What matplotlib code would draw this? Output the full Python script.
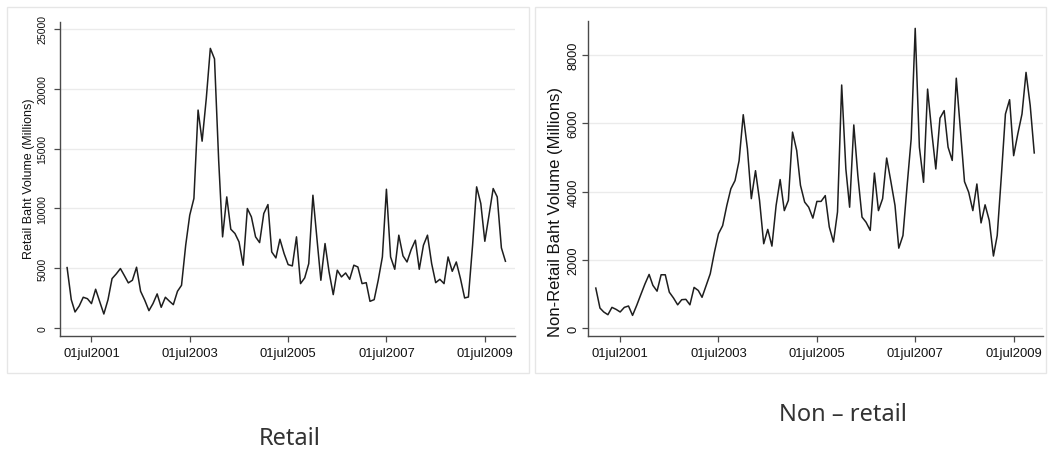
import matplotlib
matplotlib.use('Agg')
import matplotlib.pyplot as plt
from matplotlib.patches import Rectangle
import pandas as pd

## Data -- monthly baht volume, Jan 2001 .. Dec 2009 (millions)
months = pd.date_range('2001-01-01', periods=108, freq='MS')

retail = [
    5050, 2370, 1340, 1840, 2570, 2450, 2040, 3240, 2180, 1170, 2370, 4130,
    4520, 4970, 4410, 3770, 3990, 5080, 3070, 2320, 1450, 2040, 2850, 1730,
    2570, 2230, 1950, 3070, 3570, 6920, 9430, 10830, 18220, 15620, 19200, 23380,
    22500, 14000, 7620, 10960, 8260, 7900, 7200, 5250, 9990, 9290, 7620, 7140,
    9570, 10320, 6360, 5860, 7420, 6220, 5300, 5190, 7620, 3710, 4190, 5380,
    11100, 7340, 3990, 7060, 4690, 2790, 4830, 4270, 4600, 4070, 5250, 5100,
    3710, 3790, 2230, 2370, 3990, 5940, 11600, 5940, 4910, 7760, 6030, 5520,
    6560, 7340, 4910, 6920, 7760, 5380, 3790, 4070, 3710, 5940, 4740, 5520,
    4130, 2510, 2590, 6920, 11800, 10410, 7250, 9430, 11660, 10960, 6700, 5580,
]

non_retail = [
    1170, 585, 470, 390, 605, 546, 470, 605, 645, 370, 665, 975,
    1290, 1570, 1250, 1080, 1560, 1560, 1050, 880, 680, 830, 840, 680,
    1190, 1100, 900, 1250, 1590, 2220, 2760, 3000, 3590, 4080, 4320, 4900,
    6250, 5250, 3790, 4610, 3740, 2470, 2890, 2400, 3590, 4350, 3440, 3740,
    5740, 5200, 4180, 3690, 3540, 3220, 3710, 3710, 3880, 2960, 2520, 3400,
    7120, 4660, 3540, 5950, 4470, 3250, 3100, 2860, 4540, 3440, 3790, 4980,
    4300, 3590, 2340, 2710, 4130, 5540, 8780, 5300, 4270, 7000, 5740, 4660,
    6150, 6370, 5300, 4910, 7320, 5790, 4290, 3980, 3440, 4220, 3080, 3610,
    3150, 2110, 2710, 4470, 6270, 6690, 5050, 5690, 6270, 7490, 6520, 5130,
]

tick_dates = pd.to_datetime(['2001-07-01', '2003-07-01', '2005-07-01',
                             '2007-07-01', '2009-07-01'])
tick_labels = [d.strftime('%d%b%Y').lower() for d in tick_dates]

## Styling
line_col = '#1e1e1e'
axis_col = '#4a4a4a'
grid_col = '#ebebeb'
frame_col = '#e6e6e6'
tick_font = ['Liberation Sans', 'Arial', 'DejaVu Sans']

plt.rcParams['font.family'] = tick_font

fig = plt.figure(figsize=(10.49, 4.60), dpi=100)
W, H = 1049., 460.

def px_box(x0, y0, x1, y1):
    # pixel box (top-left origin) -> figure fraction [l, b, w, h]
    return [x0 / W, 1 - y1 / H, (x1 - x0) / W, (y1 - y0) / H]

# light panel frames behind each graph
for (x0, y0, x1, y1) in [(7, 8, 529, 374), (535, 8, 1046, 374)]:
    l, b, w, h = px_box(x0, y0, x1, y1)
    fig.patches.append(Rectangle((l, b), w, h, transform=fig.transFigure,
                                 facecolor='none', edgecolor=frame_col,
                                 linewidth=1.0, zorder=-5))

month = pd.Timedelta(days=30.44)

def style_axes(ax, yticks, ylim, xpad_left, xpad_right, ylab, ylab_size,
               ytick_size, ytick_pad, ylab_pos):
    ax.set_facecolor('none')
    ax.set_ylim(*ylim)
    ax.set_yticks(yticks)
    ax.set_yticklabels([str(v) for v in yticks], rotation=90, va='center',
                       fontsize=ytick_size)
    ax.set_xlim(months[0] - xpad_left * month, months[0] + xpad_right * month)
    ax.set_xticks(tick_dates)
    ax.set_xticklabels(tick_labels, fontsize=9.4)
    for s in ['top', 'right']:
        ax.spines[s].set_visible(False)
    for s in ['left', 'bottom']:
        ax.spines[s].set_color(axis_col)
        ax.spines[s].set_linewidth(1.0)
    ax.tick_params(direction='out', length=4, width=0.9, color=axis_col,
                   labelcolor='#111111')
    ax.tick_params(axis='y', pad=ytick_pad)
    ax.tick_params(axis='x', pad=4)
    ax.grid(axis='y', color=grid_col, linewidth=1.0)
    ax.set_axisbelow(True)
    ax.set_ylabel(ylab, fontsize=ylab_size, color='#111111')
    ax.yaxis.set_label_coords(*ylab_pos)

ax1 = fig.add_axes(px_box(60, 23, 515, 337))
ax1.plot(months, retail, color=line_col, linewidth=1.1)
style_axes(ax1, [0, 5000, 10000, 15000, 20000, 25000], (-670, 25585),
           1.73, 109.3, 'Retail Baht Volume (Millions)', 9.0, 7.6, 5,
           (-0.056, 0.503))

ax2 = fig.add_axes(px_box(588, 22, 1043, 337))
ax2.plot(months, non_retail, color=line_col, linewidth=1.1)
style_axes(ax2, [0, 2000, 4000, 6000, 8000], (-234, 8996),
           1.9, 109.1, 'Non-Retail Baht Volume (Millions)', 12.0, 9.2, 2,
           (-0.056, 0.397))

# captions under the two graphs
cap_font = ['Liberation Sans Narrow', 'Noto Sans', 'DejaVu Sans']
fig.text(290 / W, 1 - 439 / H, 'Retail', ha='center', va='center',
         fontsize=17, family=cap_font, color='#333333')
fig.text(843 / W, 1 - 415 / H, 'Non \u2013 retail', ha='center', va='center',
         fontsize=17, family=cap_font, color='#333333')

fig.savefig('out.png', dpi=100, facecolor='white')
